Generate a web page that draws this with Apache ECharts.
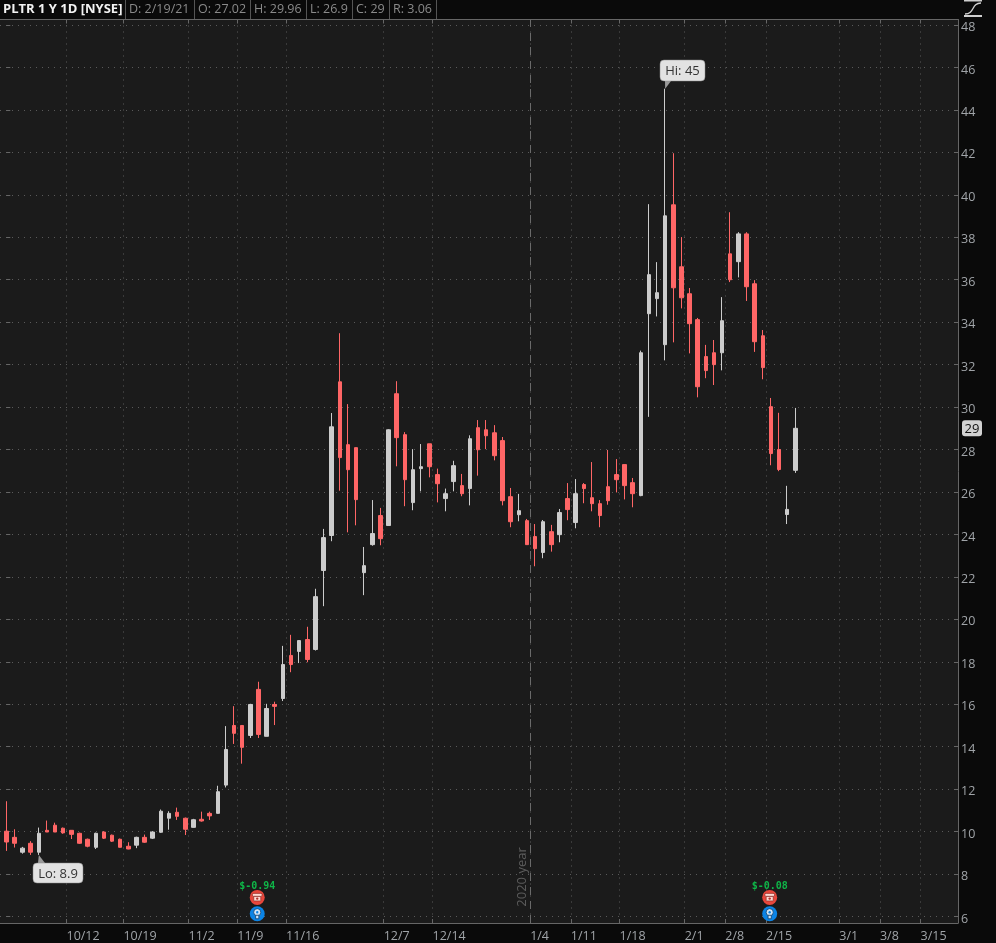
<!DOCTYPE html>
<html><head><meta charset="utf-8">
<style>html,body{margin:0;padding:0;background:#0a0a0a;overflow:hidden}#c{width:996px;height:943px}</style>
<script src="https://cdn.jsdelivr.net/npm/echarts@6/dist/echarts.min.js"></script>
</head><body><div id="c"></div>
<script>
const opens=[10.02,9.73,9.03,9.45,9.03,10.06,10.3,10.16,10.06,9.92,9.64,9.26,9.98,9.83,9.64,9.31,9.36,9.73,9.69,9.97,10.63,10.91,10.63,10.2,10.58,10.86,10.86,12.19,15.0,15.0,14.53,16.7,14.49,15.99,16.27,18.3,18.49,19.05,18.58,22.3,23.95,31.19,28.23,28.09,22.2,23.52,24.89,24.42,30.63,28.7,25.5,27.1,28.27,26.82,25.69,26.49,26.3,26.16,29.03,28.93,28.79,28.42,25.78,24.93,24.65,23.9,23.15,24.13,23.99,25.69,24.56,26.35,25.73,25.45,26.25,26.82,27.29,26.44,25.83,34.4,35.11,32.94,39.53,36.61,35.34,34.12,32.38,32.56,32.56,37.22,36.85,38.16,35.81,33.36,30.02,28.0,24.94,27.02];
const closes=[9.51,9.45,9.22,9.03,9.92,9.98,9.98,9.94,9.87,9.45,9.31,9.92,9.69,9.55,9.26,9.18,9.73,9.5,9.98,10.96,10.86,10.72,10.11,10.56,10.5,10.74,11.88,13.87,14.63,13.97,15.99,14.58,15.8,15.9,17.87,17.87,19.0,18.11,21.07,23.85,29.07,27.62,27.05,25.64,22.53,24.04,23.8,28.93,28.56,26.58,27.05,27.19,27.19,26.39,25.92,27.24,25.92,28.51,27.99,28.65,27.71,25.59,24.6,25.12,23.52,23.33,24.6,23.52,25.03,25.17,25.92,26.16,25.45,24.89,25.59,26.58,26.3,25.92,32.56,36.24,35.39,39.01,35.62,35.15,33.93,30.96,31.72,32.0,34.07,36.0,38.16,35.67,33.08,31.86,27.81,27.06,25.18,29.0];
const lows=[9.09,9.25,8.96,8.9,8.9,9.98,9.98,9.9,9.65,9.42,9.26,9.18,9.65,9.51,9.25,9.17,9.22,9.47,9.65,9.94,10.09,10.55,9.84,10.19,10.47,10.55,10.85,12.08,14.13,13.2,14.41,14.41,14.49,15.02,16.15,17.51,17.94,17.98,18.53,20.62,23.68,26.06,24.1,24.43,21.14,23.47,23.49,24.42,27.21,25.33,25.14,26.03,26.69,25.51,25.09,26.03,25.8,25.37,26.77,28.02,27.49,25.37,24.34,24.62,23.51,22.5,22.88,23.19,23.63,24.67,24.29,25.47,25.09,24.34,25.4,25.98,25.65,25.28,25.8,29.54,34.27,32.2,33.05,34.65,32.53,30.46,31.36,31.04,31.73,35.89,36.11,35.0,32.6,31.31,27.26,26.98,24.49,26.9];
const highs=[11.43,10.11,9.28,9.55,10.19,10.52,10.42,10.19,10.06,9.95,9.67,9.95,10.02,9.86,9.67,9.5,9.76,9.86,10.02,11.04,10.96,11.13,10.66,10.6,10.94,10.94,12.16,14.97,15.91,15.0,16.02,17.06,16.02,16.12,18.75,19.27,19.0,19.65,21.44,24.26,29.72,33.48,30.14,28.09,23.41,25.62,25.25,28.96,31.22,28.82,28.02,28.26,28.27,27.1,26.16,27.47,26.85,28.67,29.39,29.39,29.15,28.59,26.19,25.91,24.73,24.49,24.68,24.45,25.2,26.42,26.61,26.42,27.41,25.62,27.98,27.55,27.29,26.66,32.66,39.56,36.83,45.0,41.96,38.01,35.61,34.2,32.93,33.16,35.18,39.18,38.24,38.24,35.98,33.63,30.43,29.73,26.29,29.96];
const tickBars=[8,15,23,29,35,47,53,65,70,76,84,89,94,103,108,113];
const tickLabels=['10/12','10/19','11/2','11/9','11/16','12/7','12/14','1/4','1/11','1/18','2/1','2/8','2/15','3/1','3/8','3/15'];
const priceTicks=[6,8,10,12,14,16,18,20,22,24,26,28,30,32,34,36,38,40,42,44,46,48];
const headerTexts=['PLTR 1 Y 1D [NYSE]','D: 2/19/21','O: 27.02','H: 29.96','L: 26.9','C: 29','R: 3.06'];
const headerX=[3,129,198,254,310,356,393];
const headerSeps=[125,194,250,306,352,389,436];
const earningsBars=[30.85,93.85];
const earningsText=['$-0.94','$-0.08'];
const lastPrice=29;

const FONT='"Open Sans",sans-serif';
const UP='#cccccc',DOWN='#ff6666',GRID='#5a5a5a',AXIS='#666666',LBL='#a0a4a8';
const rows=opens.map((o,i)=>[i,o,closes[i],lows[i],highs[i]]);
const xTicks=tickBars.map(b=>b-0.6);
const yearBar=tickBars[tickLabels.indexOf('1/4')]-0.6;
const X_MIN=-0.7745,X_MAX=117.0,Y_MIN=5.694,Y_MAX=48.26;
const chart=echarts.init(document.getElementById('c'),null,{renderer:'canvas'});
const xBase={type:'value',min:X_MIN,max:X_MAX,scale:true,axisPointer:{show:false}};
const yBase={type:'value',min:Y_MIN,max:Y_MAX,scale:true};
chart.setOption({
  animation:false,backgroundColor:'#0a0a0a',tooltip:{show:false},
  grid:{show:true,left:0,right:38,top:19.5,bottom:19,backgroundColor:'#1b1b1b',borderWidth:0},
  xAxis:[
   {...xBase,position:'bottom',
    axisLine:{show:true,lineStyle:{color:AXIS,width:1}},
    axisTick:{show:true,inside:true,length:4,customValues:xTicks,lineStyle:{color:AXIS}},
    axisLabel:{show:true,customValues:xTicks,align:'left',margin:7,color:LBL,fontFamily:FONT,fontSize:12.5,hideOverlap:false,showMinLabel:true,showMaxLabel:true,
      formatter:v=>tickLabels[xTicks.indexOf(v)]||''},
    splitLine:{show:true,lineStyle:{color:GRID,type:[1,5],width:1}}},
   {...xBase,position:'top',
    axisLine:{show:true,lineStyle:{color:AXIS,width:1}},
    axisTick:{show:true,inside:true,length:4,customValues:xTicks,lineStyle:{color:AXIS}},
    axisLabel:{show:false},splitLine:{show:false}}
  ],
  yAxis:[
   {...yBase,position:'right',
    axisLine:{show:true,onZero:false,lineStyle:{color:AXIS,width:1}},
    axisTick:{show:true,inside:true,length:4,customValues:priceTicks,lineStyle:{color:AXIS}},
    axisLabel:{show:true,customValues:priceTicks,margin:3,verticalAlign:'top',lineHeight:5,color:LBL,fontFamily:FONT,fontSize:12.5,formatter:v=>String(v)},
    splitLine:{show:true,lineStyle:{color:GRID,type:[1,5],width:1}}},
   {...yBase,position:'left',
    axisLine:{show:false},
    axisTick:{show:true,inside:true,length:4,customValues:priceTicks,lineStyle:{color:AXIS}},
    axisLabel:{show:false},splitLine:{show:false}}
  ],
  series:[{
    type:'candlestick',xAxisIndex:0,yAxisIndex:0,barWidth:4,data:rows,
    itemStyle:{color:UP,color0:DOWN,borderColor:UP,borderColor0:DOWN,borderWidth:1},
    markLine:{silent:true,symbol:'none',label:{show:false},
      lineStyle:{color:'#6a6a6a',type:[8,6],width:1},data:[{xAxis:yearBar}]}
  }]
});
const P=(i,p)=>chart.convertToPixel({xAxisIndex:0,yAxisIndex:0},[i,p]);
const g=[];
g.push({type:'rect',silent:true,z:1,shape:{x:0,y:0,width:996,height:19},style:{fill:'#0a0a0a'}});
headerTexts.forEach((t,i)=>g.push({type:'text',z:5,x:headerX[i],y:9,style:{text:t,fill:i?'#8a8a8a':'#f2f2f2',font:(i?'12.5px ':'bold 13px ')+FONT,textVerticalAlign:'middle',textAlign:'left'}}));
headerSeps.forEach(x=>g.push({type:'line',z:5,shape:{x1:x+.5,y1:0,x2:x+.5,y2:19},style:{stroke:'#555',lineWidth:1}}));
g.push({type:'rect',z:5,shape:{x:964,y:0,width:18,height:1.5},style:{fill:'#cfcfcf'}});
g.push({type:'rect',z:5,shape:{x:964,y:15,width:18,height:2},style:{fill:'#cfcfcf'}});
g.push({type:'bezierCurve',z:5,shape:{x1:965,y1:14,cpx1:975,cpy1:14,cpx2:971,cpy2:3,x2:981,y2:3},style:{stroke:'#cfcfcf',fill:null,lineWidth:1.4}});
function callout(text,boxX,boxY,w,h,tipI,tipP,tail){
  const t=P(tipI,tipP);
  g.push({type:'polygon',z:20,shape:{points:[[t[0],t[1]],[tail[0],tail[1]],[tail[2],tail[3]]]},style:{fill:'#9a9a9a'}});
  g.push({type:'rect',z:21,shape:{x:boxX,y:boxY,width:w,height:h,r:4},style:{fill:'#e2e2e2',stroke:'#8a8a8a',lineWidth:.5}});
  g.push({type:'text',z:22,x:boxX+w/2,y:boxY+h/2+1,style:{text:text,fill:'#333',font:'13px '+FONT,textAlign:'center',textVerticalAlign:'middle'}});
}
const hiI=highs.indexOf(Math.max(...highs)),loI=lows.indexOf(8.9,4);
callout('Hi: '+highs[hiI],660,60,45,21,hiI,highs[hiI],[665,81,671,81]);
callout('Lo: '+lows[loI],33,863,50,20,loI,lows[loI],[38,863,45,863]);
const ly=P(0,lastPrice)[1];
g.push({type:'rect',z:20,shape:{x:962,y:ly-8,width:20,height:16,r:3},style:{fill:'#d2d2d2'}});
g.push({type:'text',z:21,x:972,y:ly+1,style:{text:String(lastPrice),fill:'#111',font:'13px '+FONT,textAlign:'center',textVerticalAlign:'middle'}});
g.push({type:'text',z:6,x:522.5,y:877,rotation:Math.PI/2,style:{text:'2020 year',fill:'#5c5c5c',font:'13px '+FONT,textAlign:'center',textVerticalAlign:'middle'}});
earningsBars.forEach((b,i)=>{
  const cx=P(b,6)[0],ph=P(b,6.9)[1],bu=P(b,6.13)[1];
  g.push({type:'text',z:20,x:cx,y:886,style:{text:earningsText[i],fill:'#0fb548',font:'bold 10px "DejaVu Sans Mono",monospace',textAlign:'center',textVerticalAlign:'middle'}});
  g.push({type:'circle',z:20,shape:{cx:cx,cy:ph,r:7.5},style:{fill:'#e8473c'}});
  g.push({type:'rect',z:21,shape:{x:cx-5,y:ph-4,width:10,height:3,r:1.5},style:{fill:'#ffd9d4',stroke:'#7a241d',lineWidth:.6}});
  g.push({type:'rect',z:21,shape:{x:cx-3.5,y:ph-1,width:7,height:4.5,r:.5},style:{fill:'#ffd9d4',stroke:'#7a241d',lineWidth:.6}});
  g.push({type:'circle',z:22,shape:{cx:cx,cy:ph+1.2,r:1.2},style:{fill:'#b23028'}});
  g.push({type:'circle',z:20,shape:{cx:cx,cy:bu,r:7.5},style:{fill:'#0b84e6'}});
  g.push({type:'circle',z:21,shape:{cx:cx,cy:bu-1.5,r:3.6},style:{fill:'#cfe6fa',stroke:'#0a3d6e',lineWidth:.8}});
  g.push({type:'rect',z:21,shape:{x:cx-1.6,y:bu+1.5,width:3.2,height:3.5},style:{fill:'#cfe6fa',stroke:'#0a3d6e',lineWidth:.8}});
  g.push({type:'circle',z:22,shape:{cx:cx,cy:bu-1.5,r:1.2},style:{fill:'#0b84e6'}});
});
chart.setOption({graphic:{elements:g}});
</script></body></html>
